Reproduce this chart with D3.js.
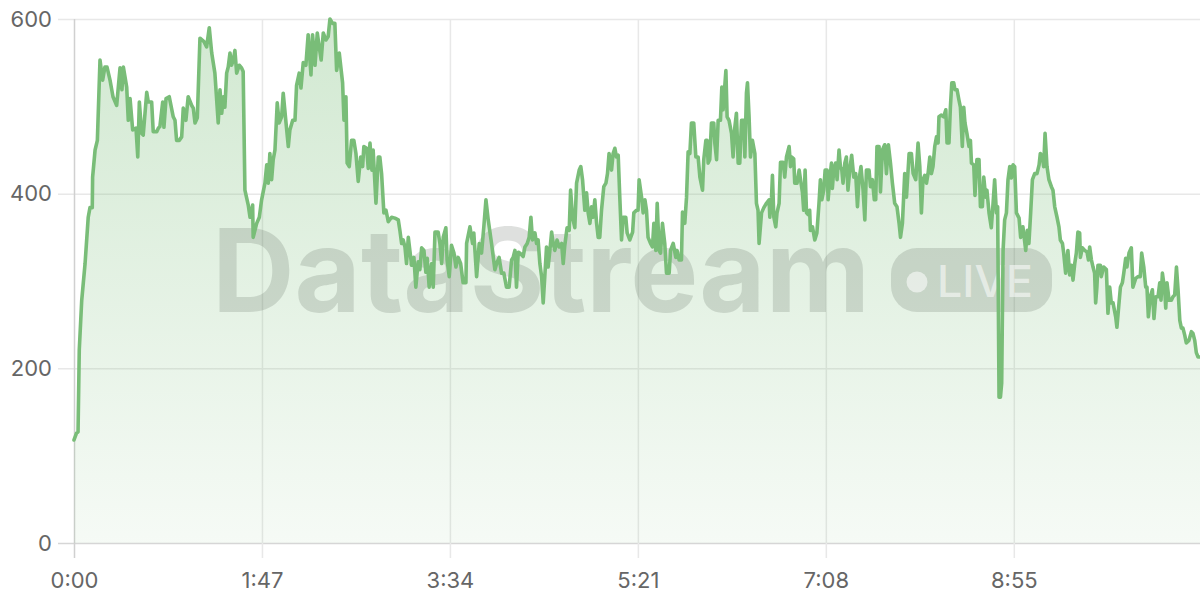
<!DOCTYPE html>
<html><head><meta charset="utf-8">
<script src="https://cdn.jsdelivr.net/npm/d3@7"></script>
<style>html,body{margin:0;padding:0;background:#fff;} svg{display:block;font-family:Inter,"Noto Sans",sans-serif;}</style>
</head><body><svg id="chart" width="1200" height="600"></svg>
<script>
const timeSec = [
0,1.5,2.3,3,4.4,6.3,8.1,9.1,10.4,10.6,
12,13.3,14.8,16.3,17.6,18.8,20.5,22.2,24.3,26.2,
27.3,28.1,30,30.9,31.9,33.4,35.3,36.3,37.2,38.5,
39.4,41.4,42.3,44.2,45.1,47.1,48,48.9,50.5,51.2,
52.4,54.2,56.5,57.5,58.4,59.9,61.3,62.2,63.7,65,
67,67.9,68.9,70.2,71.7,74,75.5,77,78.4,80.2,
82.1,83.1,84.1,85,85.9,86.9,87.8,88.8,89.7,90.7,
91.6,92.6,94.1,95.4,96.3,97.3,99.2,100.2,101.7,102,
104,105.5,106.8,108.7,109.7,110.6,111.5,112.5,113.4,114.4,
115.7,116.8,118.2,119.1,120.7,122,122.9,124.5,125.8,126.7,
128.2,129.2,130.5,132,133.3,134.9,135.8,137.2,138.5,139.6,
140.7,141.9,143.4,144.7,145.7,147.2,148.5,149.5,151,152.9,
153.7,154.8,155.5,156.7,158,159.3,160.5,161.8,163.2,164.3,
165,166.6,167.5,168.5,169.6,170.3,171.9,173.2,174.1,175.1,
176.4,177.6,178.9,180.8,182.7,184.6,185.5,186.5,187.4,188.4,
189.3,190.3,191.2,192.2,193.5,194.6,195.9,196.9,197.9,199.2,
200.3,201.1,202.2,203.6,204.5,205.5,207.3,208.3,209.3,210.2,
211.7,212.4,213.6,214.9,216.3,217.4,218.7,220.1,221.5,223.1,
223.5,225.4,226.9,227.6,229.2,230.7,232,233.3,234.5,235.8,
237.7,239.6,240.6,242,243.4,244.7,246.2,247.7,249.1,250,
251,251.9,252.9,253.8,255.7,256.7,258,259.1,260.1,261,
262.4,263.3,264.2,265.2,266.2,267.1,268,269,269.9,270.9,
271.9,272.8,273.7,275,276.2,277.6,278.5,279.4,280.7,281.9,
282.7,283.8,285.1,286.1,287.6,288.5,289.5,290.8,291.8,292.7,
293.7,294.6,295.5,296.5,297.5,298.4,299.3,300.3,301.6,302.8,
303.7,304.6,306,306.9,307.9,308.8,309.8,310.7,311.7,312.6,
314.1,314.9,316.4,318,318.7,320.2,321.1,321.7,323.1,324,
325,325.9,326.8,328.2,329.3,330.1,331.2,332,333.1,333.9,
335,336.3,337.3,338.8,339.6,341.1,342.6,343.3,344.5,345.8,
346.4,347.7,348.7,349.6,350.6,351.5,352.8,354,355.3,356.3,
357.8,358.5,359.7,360.4,361,361.9,362.9,364.2,364.8,365.8,
366.7,368,368.8,369.5,371.1,371.8,372.9,374.3,375.2,376.2,
377.1,378.1,379,380,381.3,381.9,382.8,383.4,384.3,385.1,
386.2,387.6,388.5,389.4,390,391.4,392.7,394.2,395.7,396.1,
397.1,397.6,398.4,399.5,400.2,401.4,402.2,403.7,404.6,405.6,
407.1,407.9,408.6,409.7,410.3,411.6,412.8,413.9,414.7,415.4,
416.2,417,417.9,418.8,419.2,420.4,421.7,422.9,424.1,424.9,
425.7,426.8,427.6,428.7,429.3,430.2,431.2,431.7,432.5,433.6,
434.4,435.5,436.3,437.1,437.8,438.8,439.7,440.6,441.6,442.7,
443.9,445,446,446.9,448,449.2,450.2,451.1,452.6,453.4,
454.5,455.6,456.4,457.1,458.3,459.1,460.2,461.5,462.5,463.6,
464.8,465.9,467.2,468.5,469.7,470.5,471.6,472.9,473.9,475.4,
476.7,477.7,479.2,480.5,481.5,482.4,483.3,484.3,485.3,486.2,
487.2,488.1,489,490,491,491.9,492.4,493.8,495.1,496.3,
497,498.1,498.9,499.7,500.8,501.5,502.7,503.8,504.6,505.7,
506.5,507.2,508.3,509.5,510.3,510.9,512.2,512.9,514,515.2,
516,517.1,517.9,519,519.7,520.9,522.2,523.2,524.1,525.1,
525.8,526.6,527.4,528.1,528.9,529.8,530.8,531.7,532.7,533.6,
534.6,535.5,536.5,538,538.9,540.2,541.8,542.7,543.6,544.6,
545.6,546.9,548.2,549.4,550.1,551.3,552,552.8,553.9,555,
556.4,557.3,558.3,559.6,560.7,561.5,562.7,563.4,564.5,565.8,
566.8,567.8,568.7,569.7,570.6,571.5,572.5,572.9,574,575.4,
576.7,577.5,578.2,579.2,580.1,581,581.6,582.3,582.9,584.3,
584.8,586.2,587.7,588.6,589.6,590.5,591.5,593,593.7,594.9,
595.7,596.8,597.6,598.7,599.4,600.6,601.9,602.8,604.4,605.7,
607,607.8,609,610.1,610.8,611.6,612.7,613.9,614.8,615.8,
617.1,618.1,618.8,619.6,620.9,621.5,622.2,623.4,624.7,625.6,
626.6,627.6,628.5,629.5,630.4,631.3,632.3,633.2,634.7,636.1,
637,638,638.9,639.9,641
];
const values = [
118,126,127,221,278,320,373,384,384,419,
450,461,553,530,545,545,530,511,501,544,
519,545,522,484,509,473,475,442,505,469,
467,516,505,505,471,471,475,477,505,476,
509,511,488,484,461,461,465,498,484,511,
501,498,481,487,578,574,568,590,561,538,
481,519,492,511,499,538,545,561,547,553,
564,538,547,544,540,404,387,373,387,350,
366,373,393,412,433,412,446,416,439,450,
504,481,488,515,481,454,473,484,484,524,
538,521,550,547,582,536,582,547,584,568,
553,584,576,580,600,595,595,541,561,527,
484,511,435,431,461,461,446,414,442,431,
454,452,429,458,427,450,389,442,442,423,
378,381,368,373,372,370,358,343,347,339,
320,350,335,318,327,293,322,313,338,335,
310,326,293,320,293,356,356,343,320,350,
361,324,305,341,332,316,327,320,298,298,
343,362,343,355,305,343,332,362,393,370,
343,313,320,327,309,309,293,293,324,327,
335,293,333,332,328,339,343,350,373,347,
355,343,347,320,305,275,305,339,316,335,
356,343,335,347,339,343,320,341,361,358,
404,373,361,412,427,431,416,381,401,378,
366,385,373,393,366,350,350,381,408,412,
423,446,427,446,452,442,444,396,347,373,
373,355,347,356,378,381,381,416,396,378,
393,381,350,343,339,366,335,389,335,332,
366,343,309,309,335,343,327,335,324,324,
379,366,396,448,446,481,481,442,442,419,
404,439,461,461,435,439,481,481,458,439,
484,484,522,496,541,488,484,469,442,476,
492,435,435,484,484,442,515,527,488,442,
461,446,389,381,343,378,384,389,393,373,
396,421,373,362,378,389,436,436,419,442,
454,431,442,440,412,412,427,412,401,381,
427,378,376,381,358,362,347,355,389,416,
393,404,427,427,393,416,435,406,427,435,
416,450,431,427,412,435,442,404,427,444,
419,423,385,416,431,404,370,427,427,408,
416,393,393,454,454,402,450,456,423,456,
435,412,389,385,366,350,366,423,396,446,
446,423,416,458,431,378,416,421,412,423,
442,423,431,454,465,458,488,490,488,496,
458,458,499,527,527,519,519,507,499,454,
499,481,469,454,461,435,433,398,439,439,
385,385,419,396,404,378,361,389,416,378,
385,167,167,183,335,370,378,416,431,418,
433,431,378,372,350,362,335,358,343,378,
416,423,423,433,446,442,431,469,431,416,
408,404,385,373,362,347,343,332,309,335,
307,318,301,320,332,356,355,327,338,335,
333,324,339,324,316,309,275,293,318,318,
305,316,313,263,293,275,275,259,247,275,
293,298,309,326,316,332,338,293,303,305,
305,332,316,293,293,259,282,290,257,282,
282,298,278,309,290,269,298,278,278,282,
284,316,290,255,246,246,238,229,232,242,
240,232,218,213,213
];
const xTickSec = [0,107,214,321,428,535];
const xTickLabels = ["0:00","1:47","3:34","5:21","7:08","8:55"];
const yTicks = [0,200,400,600];
const watermarkText = "DataStream";
const badgeText = "LIVE";

const data = timeSec.map((t,i)=>({t, v: values[i]}));
const W=1200, H=600, m={top:19,right:0,bottom:57,left:74};
const iw = W-m.left-m.right, ih = H-m.top-m.bottom;
const svg = d3.select("#chart");
const x = d3.scaleLinear().domain([0, d3.max(timeSec)]).range([m.left, W-m.right]);
const y = d3.scaleLinear().domain([0, 600]).range([H-m.bottom, m.top]);
const lineColor = "#79bd78";

const defs = svg.append("defs");
const grad = defs.append("linearGradient").attr("id","fillGrad")
  .attr("gradientUnits","userSpaceOnUse").attr("x1",0).attr("x2",0)
  .attr("y1", y(600)).attr("y2", y(0));
grad.append("stop").attr("offset","0%").attr("stop-color",lineColor).attr("stop-opacity",0.34);
grad.append("stop").attr("offset","100%").attr("stop-color",lineColor).attr("stop-opacity",0.07);

const yAxis = svg.append("g").attr("transform",`translate(${m.left},0)`)
  .call(d3.axisLeft(y).tickValues(yTicks).tickSize(-iw).tickPadding(22).tickSizeOuter(0));
yAxis.select(".domain").remove();
yAxis.selectAll(".tick line").attr("x1",-16).attr("stroke",d=>d===0?"#d6d6d6":"#e8e8e8").attr("stroke-width",1.5);
yAxis.selectAll(".tick text").attr("fill","#666").style("font-size","22px").style("font-family","Inter, 'Noto Sans', sans-serif");

const xAxis = svg.append("g").attr("transform",`translate(0,${H-m.bottom})`)
  .call(d3.axisBottom(x).tickValues(xTickSec).tickFormat((d,i)=>xTickLabels[i]).tickSize(-ih).tickPadding(29).tickSizeOuter(0));
xAxis.select(".domain").remove();
xAxis.selectAll(".tick line").attr("y1",15).attr("stroke",d=>d===0?"#d0d0d0":"#e8e8e8").attr("stroke-width",1.5);
xAxis.selectAll(".tick text").attr("fill","#666").style("font-size","22px").style("font-family","Inter, 'Noto Sans', sans-serif");

const area = d3.area().x(d=>x(d.t)).y0(y(0)).y1(d=>y(d.v));
svg.append("path").datum(data).attr("d",area).attr("fill","url(#fillGrad)");

const cx = m.left + iw/2, cy = m.top + ih/2;
const wm = svg.append("g").attr("pointer-events","none");
const wmColor = "rgba(60,70,60,0.17)";
wm.append("text").attr("x", cx-425).attr("y", cy+31)
  .attr("textLength", 658).attr("lengthAdjust","spacingAndGlyphs")
  .style("font-family","Inter, 'Noto Sans', sans-serif").style("font-weight",700).style("font-size","116px")
  .attr("fill", wmColor).text(watermarkText);
wm.append("rect").attr("x", cx+254).attr("y", cy-33).attr("width",161).attr("height",64).attr("rx",26)
  .attr("fill", wmColor);
wm.append("circle").attr("cx", cx+280).attr("cy", cy+1).attr("r",10.5).attr("fill","rgba(255,255,255,0.55)");
wm.append("text").attr("x", cx+300).attr("y", cy+16)
  .attr("textLength", 96).attr("lengthAdjust","spacingAndGlyphs")
  .style("font-family","Inter, 'Noto Sans', sans-serif").style("font-weight",500).style("font-size","44px")
  .attr("fill","rgba(255,255,255,0.55)").text(badgeText);

const line = d3.line().x(d=>x(d.t)).y(d=>y(d.v));
svg.append("path").datum(data).attr("d",line).attr("fill","none")
  .attr("stroke",lineColor).attr("stroke-width",3.6).attr("stroke-linejoin","round").attr("stroke-linecap","round");
</script></body></html>
